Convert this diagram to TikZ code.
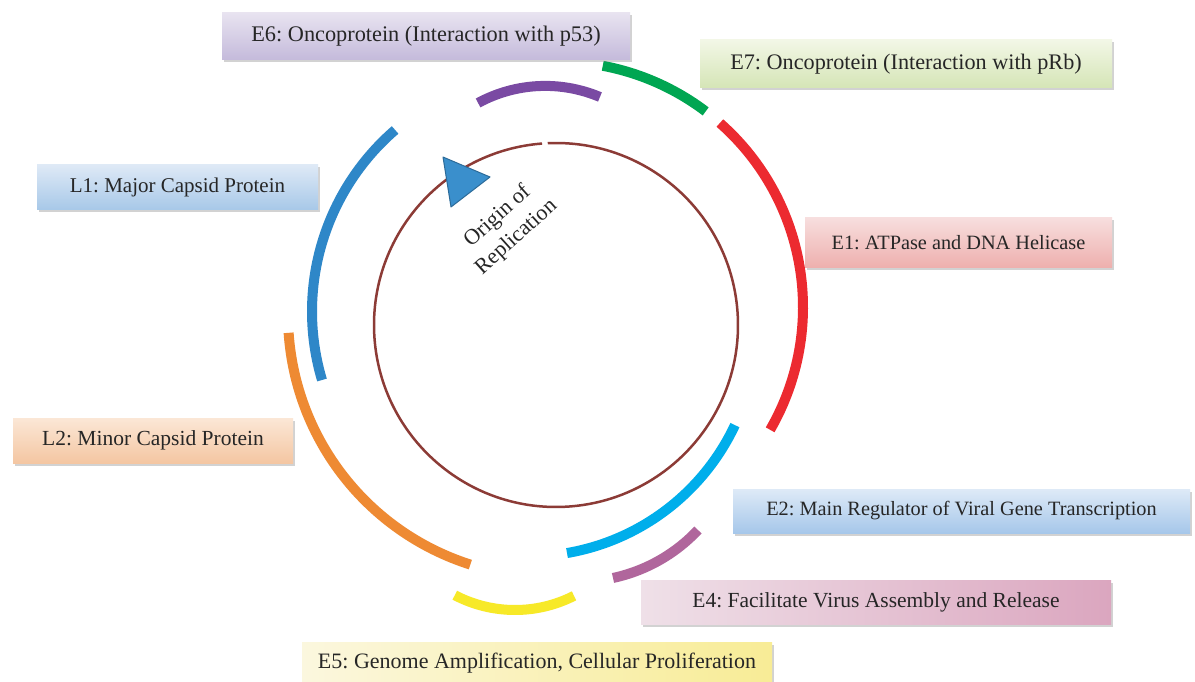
\documentclass[tikz,border=0pt]{standalone}
\usepackage{fontspec}
\setmainfont{Liberation Serif}
\usetikzlibrary{shadows,calc}
\frenchspacing
\definecolor{cred}{HTML}{EC2A30}
\definecolor{cgreen}{HTML}{00A652}
\definecolor{cpurple}{HTML}{7A4AA3}
\definecolor{cblueA}{HTML}{2E87C8}
\definecolor{corange}{HTML}{EE8A33}
\definecolor{cyellow}{HTML}{F7E928}
\definecolor{ccyan}{HTML}{00AEEB}
\definecolor{cmauve}{HTML}{B0669C}
\definecolor{cbrown}{HTML}{8C3B36}
\definecolor{tri}{HTML}{3A8FCC}
\definecolor{e6t}{HTML}{E8E3F0}\definecolor{e6b}{HTML}{C4BADB}
\definecolor{e7t}{HTML}{F2F7E6}\definecolor{e7b}{HTML}{D5E5B6}
\definecolor{l1t}{HTML}{DEE9F6}\definecolor{l1b}{HTML}{A7C8E8}
\definecolor{e1t}{HTML}{F7DEDE}\definecolor{e1b}{HTML}{EEB0AE}
\definecolor{l2t}{HTML}{FBE7D6}\definecolor{l2b}{HTML}{F4C6A2}
\definecolor{e2t}{HTML}{DEEAF7}\definecolor{e2b}{HTML}{A6C7EA}
\definecolor{e4l}{HTML}{EFE0E8}\definecolor{e4r}{HTML}{DBA6BF}
\definecolor{e5l}{HTML}{FBF7DE}\definecolor{e5r}{HTML}{F8EC96}
\begin{document}
\begin{tikzpicture}[x=1pt,y=-1pt,
  lbl/.style={inner sep=0pt, text=black!85,
    drop shadow={shadow xshift=1.5pt, shadow yshift=-2.5pt, opacity=0.35, fill=gray}},
  fs/.style={font=\fontsize{#1}{#1}\selectfont},
  gene/.style={line width=10pt},
  dna/.style={line width=2.5pt, draw=cbrown}]
\useasboundingbox (0,0) rectangle (1195,682);
\fill[white] (0,0) rectangle (1195,682);

% inner plasmid circle with small gap at top
\draw[dna] (556,325) ++(-92.6:182) arc[start angle=-92.6, end angle=265.6, radius=182];

% gene arcs
\draw[gene, cred]    (557.6,307.1) ++(-48.6:245.4) arc[start angle=-48.6, end angle=30.0, radius=245.4];
\draw[gene, cgreen]  (557,308)     ++(-79.3:246.5) arc[start angle=-79.3, end angle=-52.9, radius=246.5];
\draw[gene, cpurple] (545.2,226.6) ++(-118.5:140.7) arc[start angle=-118.5, end angle=-67.1, radius=140.7];
\draw[gene, cblueA]  (551.8,311.5) ++(163.4:239.8) arc[start angle=163.4, end angle=229.2, radius=239.8];
\draw[gene, corange] (550,315)     ++(107.7:262) arc[start angle=107.7, end angle=176.1, radius=262];
\draw[gene, cyellow] (515,480)     ++(63.0:130) arc[start angle=63.0, end angle=117.6, radius=130];
\draw[gene, ccyan]   (528.1,327.8) ++(25.2:228.6) arc[start angle=25.2, end angle=80.2, radius=228.6];
\draw[gene, cmauve]  (578.7,418)   ++(43.2:163.6) arc[start angle=43.2, end angle=77.9, radius=163.6];

% origin of replication
\coordinate (t1) at (443,157);
\coordinate (t2) at (490,177);
\coordinate (t3) at (451,207);
\filldraw[fill=tri, draw=tri!75!black, line width=1pt, line join=round] (t1)--(t2)--(t3)--cycle;
\node[rotate=42, align=center, font=\fontsize{22}{28}\selectfont, text=black!85] (ori) at (507,227) {Origin of\\Replication};

% labels
\node[lbl, fs=22.3, minimum width=408pt, minimum height=47pt, top color=e6t, bottom color=e6b] (e6) at (426,36.5) {E6: Oncoprotein (Interaction with p53)};
\node[lbl, fs=22.2, minimum width=412pt, minimum height=48pt, top color=e7t, bottom color=e7b] (e7) at (906,64) {E7: Oncoprotein (Interaction with pRb)};
\node[lbl, fs=21, minimum width=281pt, minimum height=45pt, top color=l1t, bottom color=l1b] (l1) at (177.5,187.5) {L1: Major Capsid Protein};
\node[lbl, fs=20.3, minimum width=307pt, minimum height=49pt, top color=e1t, bottom color=e1b] (e1) at (958.5,242.5) {E1: ATPase and DNA Helicase};
\node[lbl, fs=21.5, minimum width=280pt, minimum height=45pt, top color=l2t, bottom color=l2b] (l2) at (153,440.5) {L2: Minor Capsid Protein};
\node[lbl, fs=20.3, minimum width=457pt, minimum height=44pt, top color=e2t, bottom color=e2b] (e2) at (961.5,511) {E2: Main Regulator of Viral Gene Transcription};
\node[lbl, fs=21.5, minimum width=470pt, minimum height=44pt, left color=e4l, right color=e4r] (e4) at (876,602) {E4: Facilitate Virus Assembly and Release};
\node[lbl, fs=22, minimum width=470pt, minimum height=42pt, left color=e5l, right color=e5r] (e5) at (537,663) {E5: Genome Amplification, Cellular Proliferation};
\end{tikzpicture}
\end{document}
